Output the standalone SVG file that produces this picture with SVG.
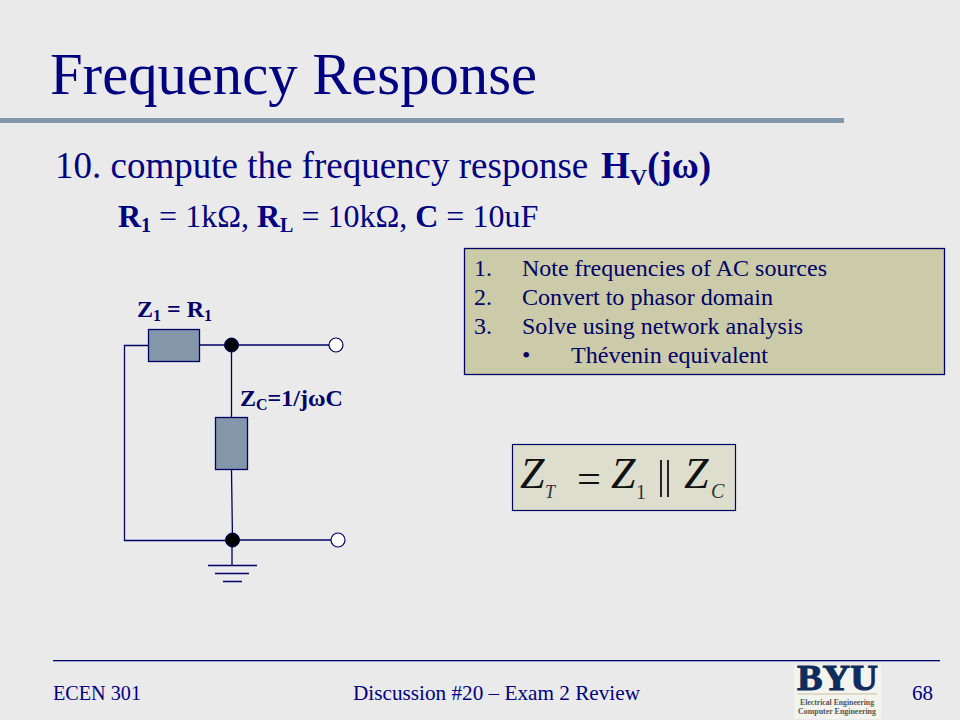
<svg xmlns="http://www.w3.org/2000/svg" width="960" height="720" viewBox="0 0 960 720">
<style>
text{font-family:"Liberation Serif","Times New Roman",serif;fill:#000080}
.w{fill:none;stroke:#000066;stroke-width:1.3}
.z{fill:#8496AA;stroke:#000066;stroke-width:1.3}
.d{fill:#000;stroke:#000066}
.o{fill:#fff;stroke:#000066;stroke-width:1.2}
.lab{font-weight:bold;font-size:24px;fill:#000066}
.li{font-size:24px;fill:#000066}
.eq{fill:#111}
.sub{fill:#333}
</style>
<rect width="960" height="720" fill="#EAEAEA"/>
<rect x="0" y="118" width="844" height="5" fill="#8496AA"/>
<text x="50" y="94" font-size="60" textLength="487" lengthAdjust="spacingAndGlyphs">Frequency Response</text>
<text x="55" y="178" font-size="37">10. compute the frequency response <tspan x="601" font-weight="bold">H<tspan font-size="24" dy="7">V</tspan><tspan dy="-7">(jω)</tspan></tspan></text>
<text x="118" y="227" font-size="32"><tspan font-weight="bold">R<tspan font-size="20" dy="5">1</tspan></tspan><tspan dy="-5"> = 1kΩ, </tspan><tspan font-weight="bold">R<tspan font-size="20" dy="5">L</tspan></tspan><tspan dy="-5"> = 10kΩ, </tspan><tspan font-weight="bold">C</tspan> = 10uF</text>
<g id="connectors">
<path class="w" d="M148 345.500H124.500V540.500H232M199 345H232M232 345H329M231.500 345V417M231.500 470L232.500 540M232 540H331M232 540V565"/>
<path class="w" d="M208 565.500H257M215 573.500H249M223 581.500H242"/>
</g>
<g id="z1"><rect class="z" x="148.500" y="329.500" width="51" height="32"/><text class="lab" x="137" y="317">Z<tspan font-size="16" dy="4">1</tspan><tspan dy="-4"> = R</tspan><tspan font-size="16" dy="4">1</tspan></text></g>
<g id="zc"><rect class="z" x="215.500" y="417.500" width="32" height="52"/><text class="lab" x="240" y="406">Z<tspan font-size="16" dy="4">C</tspan><tspan dy="-4">=1/jωC</tspan></text></g>
<g id="node-top"><circle class="d" cx="231.500" cy="345" r="7"/></g>
<g id="node-bottom"><circle class="d" cx="232.500" cy="540" r="7"/></g>
<g id="term-top"><circle class="o" cx="336" cy="345" r="7"/></g>
<g id="term-bottom"><circle class="o" cx="338" cy="540" r="7"/></g>
<g id="steps">
<rect x="464.500" y="248.500" width="480" height="126" fill="#CBCBA9" stroke="#000066" stroke-width="1.3"/>
<text class="li" x="474" y="276">1.</text><text class="li" x="522" y="276" textLength="305" lengthAdjust="spacingAndGlyphs">Note frequencies of AC sources</text>
<text class="li" x="474" y="305">2.</text><text class="li" x="522" y="305" textLength="251" lengthAdjust="spacingAndGlyphs">Convert to phasor domain</text>
<text class="li" x="474" y="334">3.</text><text class="li" x="522" y="334" textLength="281" lengthAdjust="spacingAndGlyphs">Solve using network analysis</text>
<text class="li" x="522" y="363">•</text><text class="li" x="571" y="363" textLength="197" lengthAdjust="spacingAndGlyphs">Thévenin equivalent</text>
</g>
<g id="equation">
<rect x="512.500" y="444.500" width="223" height="66" fill="#DEDECF" stroke="#000066" stroke-width="1.2"/>
<text class="eq" x="520" y="488" font-size="44" font-style="italic">Z</text>
<text class="sub" x="545" y="498" font-size="18" font-style="italic">T</text>
<text class="eq" x="577" y="492" font-size="38" textLength="24" lengthAdjust="spacingAndGlyphs">=</text>
<text class="eq" x="611" y="488" font-size="44" font-style="italic">Z</text>
<text class="sub" x="636" y="499" font-size="20">1</text>
<path d="M661 460V497M668 460V497" stroke="#111" stroke-width="1.8" fill="none"/>
<text class="eq" x="684" y="488" font-size="44" font-style="italic">Z</text>
<text class="sub" x="711" y="498" font-size="20" font-style="italic">C</text>
</g>
<rect x="53" y="660" width="887" height="1.300" fill="#000066"/>
<text x="53" y="700" font-size="21" textLength="88" lengthAdjust="spacingAndGlyphs">ECEN 301</text>
<text x="353" y="700" font-size="21" textLength="287" lengthAdjust="spacingAndGlyphs">Discussion #20 – Exam 2 Review</text>
<text x="933" y="700" font-size="21" text-anchor="end">68</text>
<g id="logo">
<rect x="794" y="665" width="87" height="54" fill="#F4F4EE"/>
<text x="797" y="690" font-size="35" font-weight="bold" textLength="81" lengthAdjust="spacingAndGlyphs" style="fill:#0F2C5C" stroke="#0F2C5C" stroke-width="1">BYU</text>
<rect x="798" y="693.500" width="79" height="1" fill="#C9BF9E"/>
<text x="800" y="705" font-size="8" textLength="74" lengthAdjust="spacingAndGlyphs" font-weight="bold" style="fill:#555">Electrical Engineering</text>
<text x="798" y="714" font-size="8" textLength="78" lengthAdjust="spacingAndGlyphs" font-weight="bold" style="fill:#555">Computer Engineering</text>
</g>
</svg>
